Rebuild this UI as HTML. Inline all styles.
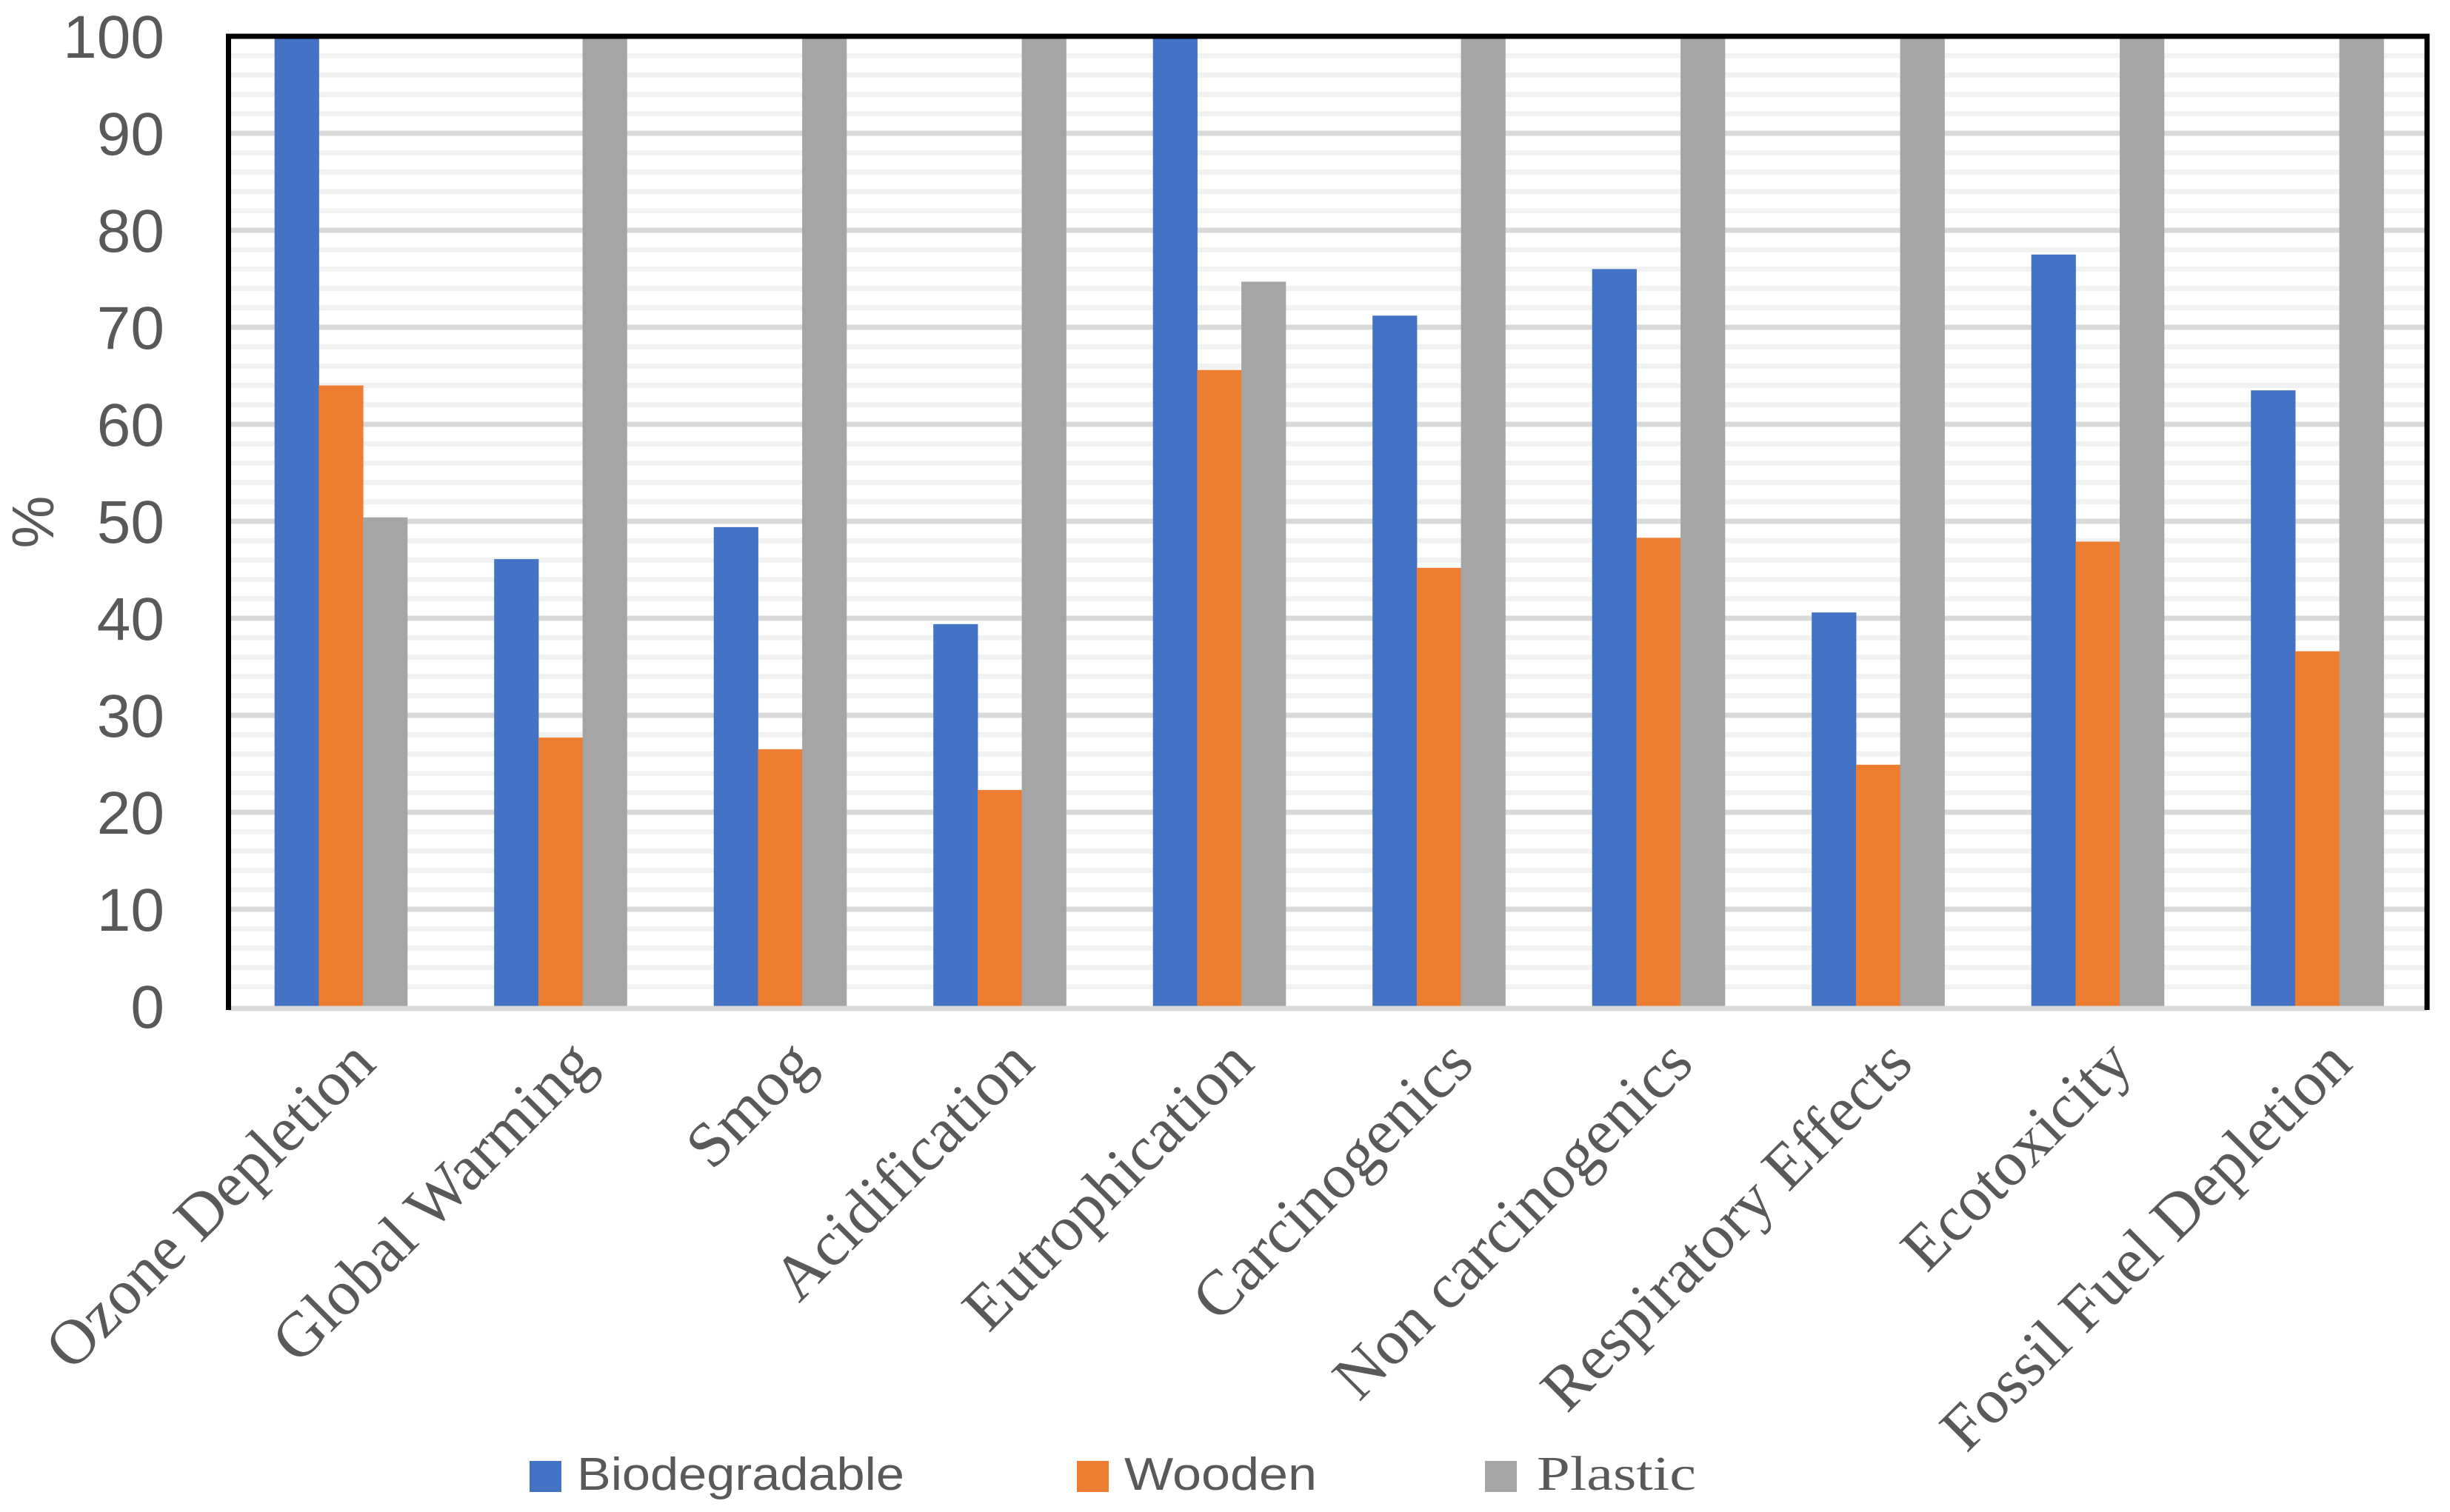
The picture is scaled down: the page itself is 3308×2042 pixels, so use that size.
<!DOCTYPE html>
<html><head><meta charset="utf-8"><style>html,body{margin:0;padding:0;background:#fff}svg{display:block}</style></head>
<body>
<svg id="chart" xmlns="http://www.w3.org/2000/svg" width="3308" height="2042" viewBox="0 0 3308 2042">
<rect x="0" y="0" width="3308" height="2042" fill="#fff"/>
<g id="grid"></g><g id="bars"></g><g id="frame"></g><g id="yticks"></g><g id="xlabels"></g>
<text x="0" y="0" transform="translate(72,705) rotate(-90)" text-anchor="middle" font-family="Liberation Sans, sans-serif" font-size="80" fill="#595959">%</text>
<g>
<rect x="715" y="1973" width="43" height="42" fill="#4472c4"/>
<text x="779" y="2012" font-family="Liberation Sans, sans-serif" font-size="62" textLength="442" lengthAdjust="spacingAndGlyphs" fill="#595959">Biodegradable</text>
<rect x="1454" y="1973" width="43" height="42" fill="#ed7d31"/>
<text x="1518" y="2012" font-family="Liberation Sans, sans-serif" font-size="62" textLength="260" lengthAdjust="spacingAndGlyphs" fill="#595959">Wooden</text>
<rect x="2005" y="1973" width="43" height="42" fill="#a5a5a5"/>
<text x="2075" y="2012" font-family="Liberation Serif, serif" font-size="66" textLength="215" lengthAdjust="spacingAndGlyphs" fill="#595959">Plastic</text>
</g>
</svg>
<script>
const categories = ["Ozone Depletion","Global Warming","Smog","Acidification","Eutrophication","Carcinogenics","Non carcinogenics","Respiratory Effects","Ecotoxicity","Fossil Fuel Depletion"];
const biodegradable = [100,46.1,49.4,39.4,100,71.2,76.0,40.6,77.5,63.5];
const wooden = [64.0,27.7,26.5,22.3,65.6,45.2,48.3,24.9,47.9,36.6];
const plastic = [50.4,100,100,100,74.7,100,100,100,100,100];
const yTicks = [0,10,20,30,40,50,60,70,80,90,100];

const NS = "http://www.w3.org/2000/svg";
const L = 312, R = 3277, T = 49, B = 1359, YMAX = 100;
const y = v => B - (v / YMAX) * (B - T);
const catW = (R - L) / categories.length;
const cx = i => L + catW * (i + 0.5);
const barW = 59.7;
function mk(tag, attrs, parent) { const e = document.createElementNS(NS, tag); for (const k in attrs) e.setAttribute(k, attrs[k]); parent.appendChild(e); return e; }

const grid = document.getElementById('grid');
for (let v = 2; v <= YMAX; v += 2) {
  const ln = mk('line', {x1: L, x2: R, y1: y(v), y2: y(v), stroke: (v % 10 === 0) ? '#d9d9d9' : '#f2f2f2', 'stroke-width': 7}, grid);
  
  
}

const series = [[biodegradable, '#4472c4', 'biodegradable'], [wooden, '#ed7d31', 'wooden'], [plastic, '#a5a5a5', 'plastic']];
const bars = document.getElementById('bars');
categories.forEach((c, i) => {
  series.forEach((s, j) => {
    const v = s[0][i];
    const x0 = cx(i) - 1.5 * barW + j * barW;
    const r = mk('rect', {x: x0, y: y(v), width: barW + 0.5, height: B - y(v), fill: s[1]}, bars);
    
    
  });
});

const frame = document.getElementById('frame');
const base = mk('line', {x1: L - 4, x2: R, y1: B + 3, y2: B + 3, stroke: '#d9d9d9', 'stroke-width': 7}, frame);


const box = mk('path', {d: `M${L - 3.5},${B + 5} L${L - 3.5},${T} L${R},${T} L${R},${B + 5}`, stroke: '#000', 'stroke-width': 7, fill: 'none'}, frame);



const yt = document.getElementById('yticks');
yTicks.forEach(v => {
  const t = mk('text', {x: 222, y: y(v) + 29, 'text-anchor': 'end', 'font-family': 'Liberation Sans, sans-serif', 'font-size': 82, fill: '#595959'}, yt);
  t.textContent = v;
  
  
});

const xl = document.getElementById('xlabels');
categories.forEach((c, i) => {
  const px = cx(i) + 50, py = 1440;
  const t = mk('text', {x: 0, y: 0, transform: `translate(${px},${py}) rotate(-45)`, 'text-anchor': 'end', 'font-family': 'Liberation Serif, serif', 'font-size': 86, fill: '#595959'}, xl);
  t.textContent = c;
  
  
});
</script>
</body></html>
